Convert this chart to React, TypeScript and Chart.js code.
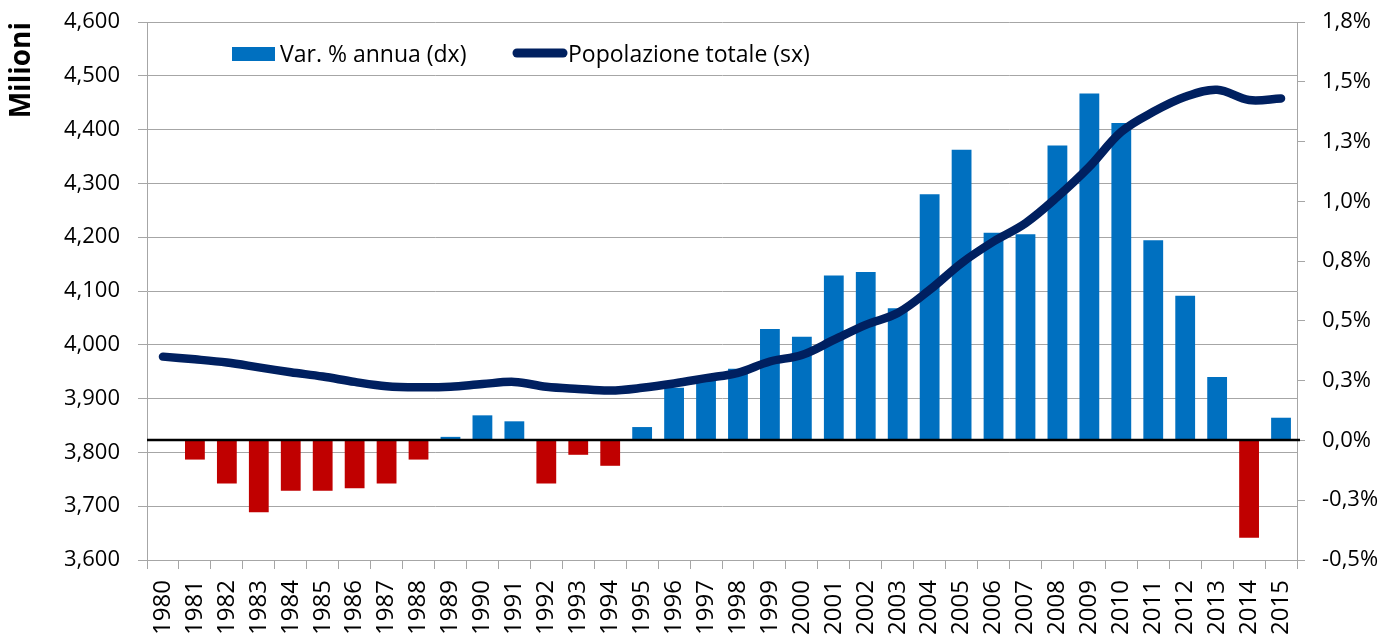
import React, { useEffect, useRef } from 'react';
import { Chart, registerables } from 'chart.js';

Chart.register(...registerables);

const anni = [
  '1980', '1981', '1982', '1983', '1984', '1985', '1986', '1987', '1988', '1989',
  '1990', '1991', '1992', '1993', '1994', '1995', '1996', '1997', '1998', '1999',
  '2000', '2001', '2002', '2003', '2004', '2005', '2006', '2007', '2008', '2009',
  '2010', '2011', '2012', '2013', '2014', '2015',
];

// Popolazione totale (milioni, asse sinistro)
const popolazione = [
  3978, 3973, 3967, 3958, 3949, 3941, 3931, 3923, 3921, 3922,
  3927, 3931, 3922, 3918, 3915, 3920, 3928, 3938, 3948, 3969,
  3981, 4009, 4037, 4059, 4102, 4152, 4192, 4226, 4275, 4331,
  4396, 4433, 4461, 4474, 4455, 4458,
];

// Variazione % annua (asse destro)
const variazione: (number | null)[] = [
  null, -0.08, -0.18, -0.3, -0.21, -0.21, -0.2, -0.18, -0.08, 0.015,
  0.105, 0.08, -0.18, -0.06, -0.106, 0.056, 0.22, 0.25, 0.3, 0.466,
  0.434, 0.69, 0.704, 0.553, 1.03, 1.216, 0.869, 0.862, 1.234, 1.451,
  1.328, 0.837, 0.605, 0.265, -0.407, 0.095,
];

const leftMin = 3600;
const leftMax = 4600;
const leftStep = 100;
const rightMin = -0.5;
const rightMax = 1.75;
const rightStep = 0.25;

const legendLabels = ['Var. % annua (dx)', 'Popolazione totale (sx)'];
const yTitle = 'Milioni';

const BLUE = '#0070C0';
const RED = '#C00000';
const NAVY = '#002060';
const GRID = '#A6A6A6';
const FONT = "'Open Sans', 'DejaVu Sans', sans-serif";

const zeroLinePlugin = {
  id: 'zeroLine',
  afterDatasetsDraw(chart: any) {
    const { ctx, chartArea, scales } = chart;
    const y = Math.round(scales.y1.getPixelForValue(0));
    ctx.save();
    ctx.strokeStyle = '#000000';
    ctx.lineWidth = 2.5;
    ctx.beginPath();
    ctx.moveTo(chartArea.left, y);
    ctx.lineTo(chartArea.right + 3, y);
    ctx.stroke();
    ctx.restore();
  },
};

const legendPlugin = {
  id: 'innerLegend',
  afterDraw(chart: any) {
    const { ctx, chartArea } = chart;
    const x0 = chartArea.left;
    const yc = chartArea.top + 33;
    ctx.save();
    ctx.font = `23px ${FONT}`;
    ctx.textBaseline = 'middle';
    // bar item
    ctx.fillStyle = BLUE;
    ctx.fillRect(x0 + 85, yc - 8, 43, 14);
    ctx.fillStyle = '#000000';
    ctx.textAlign = 'left';
    ctx.fillText(legendLabels[0], x0 + 133, yc);
    // line item
    ctx.strokeStyle = NAVY;
    ctx.lineWidth = 9;
    ctx.lineCap = 'round';
    ctx.beginPath();
    ctx.moveTo(x0 + 370, yc - 2);
    ctx.lineTo(x0 + 416, yc - 2);
    ctx.stroke();
    ctx.fillText(legendLabels[1], x0 + 421, yc);
    ctx.restore();
  },
};

export default function App() {
  const canvasRef = useRef<HTMLCanvasElement | null>(null);

  useEffect(() => {
    const canvas = canvasRef.current;
    if (!canvas) return;
    const chart = new Chart(canvas, {
      type: 'bar',
      data: {
        labels: anni,
        datasets: [
          {
            type: 'line',
            label: legendLabels[1],
            data: popolazione,
            yAxisID: 'y',
            borderColor: NAVY,
            backgroundColor: NAVY,
            borderWidth: 8.5,
            borderCapStyle: 'round',
            borderJoinStyle: 'round',
            pointRadius: 0,
            tension: 0.35,
            order: 0,
          } as any,
          {
            type: 'bar',
            label: legendLabels[0],
            data: variazione,
            yAxisID: 'y1',
            backgroundColor: variazione.map((v) => (v !== null && v < 0 ? RED : BLUE)),
            borderWidth: 0,
            categoryPercentage: 1,
            barPercentage: 0.62,
            order: 1,
          } as any,
        ],
      },
      options: {
        responsive: false,
        animation: false,
        devicePixelRatio: 1,
        layout: { padding: { top: 22, left: 0, right: 0, bottom: 0 } },
        plugins: {
          legend: { display: false },
          tooltip: { enabled: false },
        },
        scales: {
          x: {
            offset: true,
            grid: {
              offset: true,
              drawOnChartArea: false,
              drawTicks: true,
              tickLength: 9,
              color: GRID,
            },
            border: { color: GRID, width: 1 },
            ticks: {
              autoSkip: false,
              minRotation: 90,
              maxRotation: 90,
              padding: 11,
              color: '#000000',
              font: { family: FONT, size: 24 },
            },
            afterFit: (s: any) => {
              s.height = 83;
            },
          },
          y: {
            position: 'left',
            min: leftMin,
            max: leftMax,
            ticks: {
              stepSize: leftStep,
              padding: 18,
              color: '#000000',
              font: { family: FONT, size: 22 },
              callback: (v: any) => Number(v).toLocaleString('en-US'),
            },
            grid: { color: GRID, tickLength: 9, drawTicks: true },
            border: { color: GRID, width: 1 },
            title: {
              display: true,
              text: yTitle,
              align: 'end',
              color: '#000000',
              font: { family: FONT, size: 28, weight: 'bold' },
              padding: { top: 5, bottom: 0 },
            },
            afterFit: (s: any) => {
              s.width = 147;
              s.paddingTop = 0;
              s.paddingBottom = 0;
            },
          },
          y1: {
            position: 'right',
            min: rightMin,
            max: rightMax,
            ticks: {
              stepSize: rightStep,
              padding: 17,
              color: '#000000',
              font: { family: FONT, size: 22 },
              callback: (v: any) => Number(v).toFixed(1).replace('.', ',') + '%',
            },
            grid: { drawOnChartArea: false, color: GRID, tickLength: 8, drawTicks: true },
            border: { color: GRID, width: 1 },
            afterFit: (s: any) => {
              s.width = 88;
              s.paddingTop = 0;
              s.paddingBottom = 0;
            },
          },
        },
      },
      plugins: [zeroLinePlugin, legendPlugin],
    });
    return () => chart.destroy();
  }, []);

  return (
    <div style={{ position: 'absolute', left: 0, top: 0, width: 1385, height: 643, background: '#ffffff' }}>
      <canvas ref={canvasRef} width={1385} height={643} style={{ display: 'block' }} />
    </div>
  );
}
